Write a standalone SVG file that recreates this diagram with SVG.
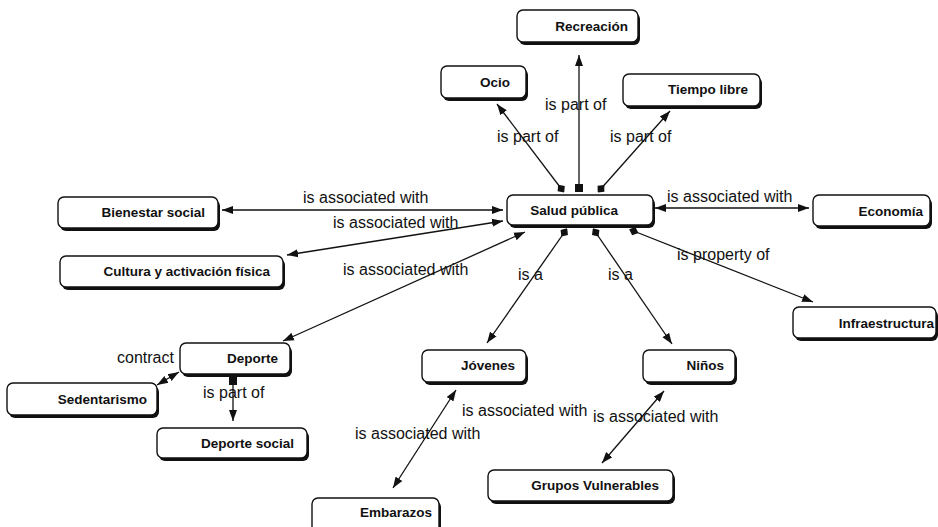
<svg xmlns="http://www.w3.org/2000/svg" width="938" height="527" viewBox="0 0 938 527">
<style>
.bg{fill:#fff}
.sh{fill:#111}
.box{fill:#fff;stroke:#111;stroke-width:1.4}
.nt{font-family:"Liberation Sans",Arial,sans-serif;font-weight:bold;font-size:13.5px;fill:#111;text-anchor:end}
.lb{font-family:"Liberation Sans",Arial,sans-serif;font-size:16px;fill:#111}
.ln{fill:none;stroke:#111;stroke-width:1.3}
.a1{marker-end:url(#arr)}
.a2{marker-start:url(#arr);marker-end:url(#arr)}
.dm{marker-start:url(#dia);marker-end:url(#arr)}
.sq{marker-start:url(#sqr);marker-end:url(#arr)}
</style>
<defs>
<marker id="arr" markerUnits="userSpaceOnUse" markerWidth="12" markerHeight="10" viewBox="0 0 12 10" refX="11" refY="5" orient="auto-start-reverse"><path d="M0,1 L11,5 L0,9 z" fill="#111"/></marker>
<marker id="dia" markerUnits="userSpaceOnUse" markerWidth="12" markerHeight="12" viewBox="0 0 12 12" refX="2" refY="6" orient="auto"><path d="M0,6 L5,1.5 L10,6 L5,10.5 z" fill="#111"/></marker>
<marker id="sqr" markerUnits="userSpaceOnUse" markerWidth="10" markerHeight="10" viewBox="0 0 10 10" refX="1" refY="5" orient="auto"><rect x="0" y="1" width="8" height="8" fill="#111"/></marker>
</defs>
<rect class="bg" x="0" y="0" width="938" height="527"/>
<g id="connectors">
<line class="ln sq" x1="579" y1="191" x2="579" y2="55"/>
<line class="ln dm" x1="563" y1="191" x2="497" y2="104"/>
<line class="ln dm" x1="599" y1="191" x2="670" y2="111"/>
<line class="ln a2" x1="222" y1="210" x2="503" y2="210"/>
<line class="ln a2" x1="287" y1="255" x2="503" y2="221"/>
<line class="ln a2" x1="283" y1="341" x2="525" y2="232"/>
<line class="ln a2" x1="655" y1="208" x2="809" y2="208"/>
<line class="ln dm" x1="631" y1="230" x2="813" y2="302"/>
<line class="ln dm" x1="566" y1="230" x2="487" y2="343"/>
<line class="ln dm" x1="594" y1="230" x2="672" y2="344"/>
<line class="ln a2" x1="456" y1="390" x2="393" y2="488"/>
<line class="ln a2" x1="664" y1="391" x2="602" y2="463"/>
<line class="ln a2" x1="179" y1="372" x2="157" y2="385"/>
<line class="ln sq" x1="233" y1="378" x2="233" y2="421"/>
</g>
<g id="labels">
<text class="lb" x="545" y="110">is part of</text>
<text class="lb" x="497" y="142">is part of</text>
<text class="lb" x="610" y="142">is part of</text>
<text class="lb" x="303" y="203">is associated with</text>
<text class="lb" x="333" y="228">is associated with</text>
<text class="lb" x="343" y="275">is associated with</text>
<text class="lb" x="667" y="202">is associated with</text>
<text class="lb" x="677" y="260">is property of</text>
<text class="lb" x="518" y="280">is a</text>
<text class="lb" x="608" y="280">is a</text>
<text class="lb" x="117" y="363">contract</text>
<text class="lb" x="203" y="398">is part of</text>
<text class="lb" x="462" y="416">is associated with</text>
<text class="lb" x="355" y="439">is associated with</text>
<text class="lb" x="593" y="422">is associated with</text>
</g>
<g id="n-recreacion"><rect class="sh" x="519" y="13" width="121" height="32" rx="6"/><rect class="box" x="517" y="10" width="121" height="32" rx="6"/><text class="nt" x="628" y="31">Recreación</text></g>
<g id="n-ocio"><rect class="sh" x="443" y="69" width="85" height="32" rx="6"/><rect class="box" x="441" y="66" width="85" height="32" rx="6"/><text class="nt" x="510" y="87">Ocio</text></g>
<g id="n-tiempo"><rect class="sh" x="625" y="77" width="137" height="32" rx="6"/><rect class="box" x="623" y="74" width="137" height="32" rx="6"/><text class="nt" x="748" y="94">Tiempo libre</text></g>
<g id="n-salud"><rect class="sh" x="509" y="198" width="146" height="30" rx="6"/><rect class="box" x="507" y="195" width="146" height="30" rx="6"/><text class="nt" x="618" y="215">Salud pública</text></g>
<g id="n-economia"><rect class="sh" x="815" y="198" width="117" height="31" rx="6"/><rect class="box" x="813" y="195" width="117" height="31" rx="6"/><text class="nt" x="923" y="216">Economía</text></g>
<g id="n-infra"><rect class="sh" x="795" y="310" width="143" height="31" rx="6"/><rect class="box" x="793" y="307" width="143" height="31" rx="6"/><text class="nt" x="934" y="328">Infraestructura</text></g>
<g id="n-bienestar"><rect class="sh" x="60" y="200" width="160" height="31" rx="6"/><rect class="box" x="58" y="197" width="160" height="31" rx="6"/><text class="nt" x="205" y="217">Bienestar social</text></g>
<g id="n-cultura"><rect class="sh" x="62" y="259" width="223" height="31" rx="6"/><rect class="box" x="60" y="256" width="223" height="31" rx="6"/><text class="nt" x="270" y="276">Cultura y activación física</text></g>
<g id="n-deporte"><rect class="sh" x="182" y="346" width="110" height="31" rx="6"/><rect class="box" x="180" y="343" width="110" height="31" rx="6"/><text class="nt" x="278" y="363">Deporte</text></g>
<g id="n-sedentarismo"><rect class="sh" x="9" y="386" width="150" height="32" rx="6"/><rect class="box" x="7" y="383" width="150" height="32" rx="6"/><text class="nt" x="147" y="404">Sedentarismo</text></g>
<g id="n-deporte-social"><rect class="sh" x="159" y="431" width="150" height="30" rx="6"/><rect class="box" x="157" y="428" width="150" height="30" rx="6"/><text class="nt" x="294" y="448">Deporte social</text></g>
<g id="n-jovenes"><rect class="sh" x="424" y="353" width="104" height="32" rx="6"/><rect class="box" x="422" y="350" width="104" height="32" rx="6"/><text class="nt" x="515" y="370">Jóvenes</text></g>
<g id="n-ninos"><rect class="sh" x="645" y="353" width="92" height="32" rx="6"/><rect class="box" x="643" y="350" width="92" height="32" rx="6"/><text class="nt" x="724" y="370">Niños</text></g>
<g id="n-grupos"><rect class="sh" x="490" y="473" width="185" height="31" rx="6"/><rect class="box" x="488" y="470" width="185" height="31" rx="6"/><text class="nt" x="659" y="490">Grupos Vulnerables</text></g>
<g id="n-embarazos"><rect class="sh" x="314" y="501" width="127" height="35" rx="6"/><rect class="box" x="312" y="498" width="127" height="35" rx="6"/><text class="nt" x="432" y="517">Embarazos</text></g>
</svg>
